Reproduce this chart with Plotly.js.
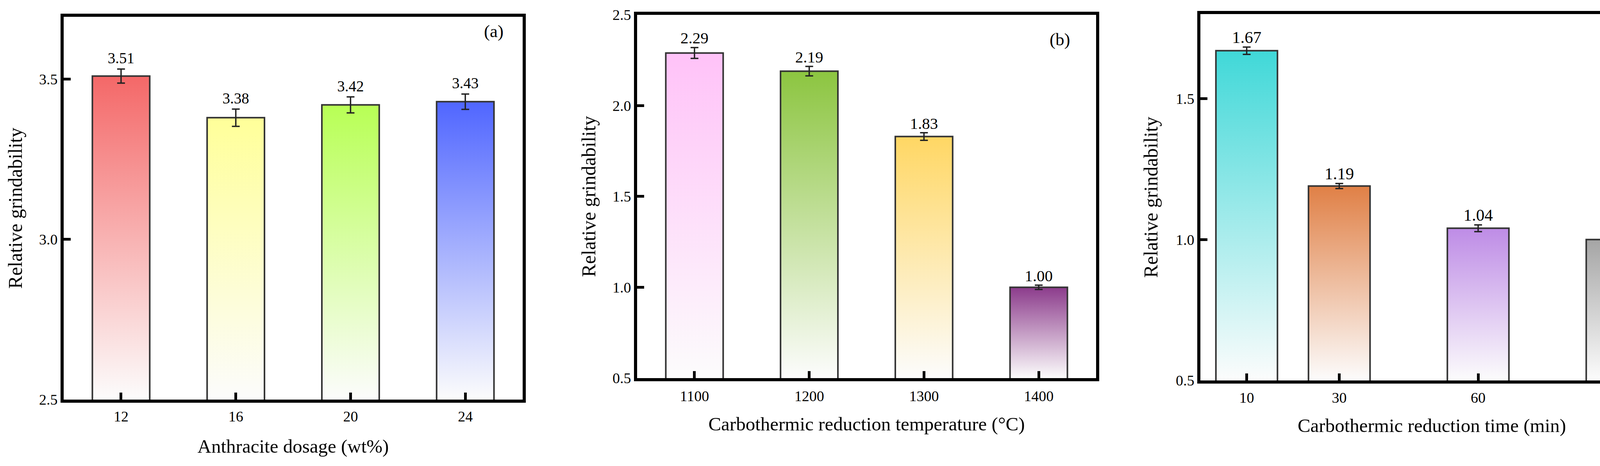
<!DOCTYPE html>
<html>
<head>
<meta charset="utf-8">
<script src="https://cdn.plot.ly/plotly-3.0.1.min.js"></script>
<style>
  html, body { margin: 0; padding: 0; background: #ffffff; }
  #paper { width: 4299px; height: 1193px; }
</style>
</head>
<body>
<div id="paper"></div>
<script>
"use strict"

// (a) anthracite dosage
var dosage = [12, 16, 20, 24];
var dosage_values = [3.51, 3.38, 3.42, 3.43];
var dosage_errors = [0.022, 0.027, 0.025, 0.024];
var dosage_colors = ['#f46868', '#ffff99', '#b8ff55', '#5066ff'];

// (b) reduction temperature
var temperature = [1100, 1200, 1300, 1400];
var temperature_values = [2.29, 2.19, 1.83, 1.00];
var temperature_errors = [0.030, 0.026, 0.021, 0.012];
var temperature_colors = ['#ffc2f8', '#8cc540', '#ffd764', '#8c3c8c'];

// (c) reduction time
var time = [10, 30, 60, 90];
var time_values = [1.67, 1.19, 1.04, 1.00];
var time_errors = [0.013, 0.009, 0.012, 0.010];
var time_colors = ['#40d8d8', '#e08046', '#be8ce6', '#a5a5a5'];

var y_ticks_a = [2.5, 3.0, 3.5];
var y_ticks_b = [0.5, 1.0, 1.5, 2.0, 2.5];
var y_ticks_c = [0.5, 1.0, 1.5];

var panel_labels = ['(a)', '(b)', '(c)'];
var x_titles = ['Anthracite dosage (wt%)', 'Carbothermic reduction temperature (°C)', 'Carbothermic reduction time (min)'];
var y_title = 'Relative grindability';

var FONT = 'Liberation Serif, Times New Roman, serif';

function bar_trace(x, y, err, colors, width, axis) {
    return {
        type: 'bar',
        x: x,
        y: y,
        width: width,
        xaxis: 'x' + axis,
        yaxis: 'y' + axis,
        marker: {color: colors, line: {color: '#333333', width: 4}},
        error_y: {type: 'data', array: err, visible: true, color: '#222222', thickness: 3.5, width: 10},
        hoverinfo: 'none'
    };
}

// value labels sit on top of the error bar caps,
// an invisible marker (lift) pushes the text a little higher
function label_trace(x, y, err, size, axis, lift) {
    var trace = {
        type: 'scatter',
        mode: 'text',
        x: x,
        y: y.map(function(v, i) { return v + err[i]; }),
        text: y.map(function(v) { return v.toFixed(2); }),
        textposition: 'top center',
        textfont: {family: FONT, size: size, color: '#000000'},
        xaxis: 'x' + axis,
        yaxis: 'y' + axis,
        hoverinfo: 'none'
    };
    if(lift > 0) {
        trace.mode = 'markers+text';
        trace.marker = {size: lift, opacity: 0};
    }
    return trace;
}

function x_axis(domain, range, ticks, anchor, label_standoff, title, title_standoff) {
    return {
        domain: domain, range: range, anchor: anchor,
        tickmode: 'array', tickvals: ticks, ticktext: ticks.map(String),
        ticks: 'inside', ticklen: 18, tickwidth: 7, tickcolor: '#000000',
        tickfont: {family: FONT, size: 38, color: '#000000'},
        ticklabelstandoff: label_standoff,
        showline: true, mirror: true, linewidth: 8, linecolor: '#000000',
        showgrid: false, zeroline: false, fixedrange: true,
        title: {text: title, font: {family: FONT, size: 49, color: '#000000'}, standoff: title_standoff}
    };
}

function y_axis(domain, range, ticks, anchor, title_standoff) {
    return {
        domain: domain, range: range, anchor: anchor,
        tickmode: 'array', tickvals: ticks, tickformat: '.1f',
        ticks: 'inside', ticklen: 18, tickwidth: 7, tickcolor: '#000000',
        tickfont: {family: FONT, size: 38, color: '#000000'},
        ticklabelstandoff: 0,
        showline: true, mirror: true, linewidth: 8, linecolor: '#000000',
        showgrid: false, zeroline: false, fixedrange: true,
        title: {text: y_title, font: {family: FONT, size: 50, color: '#000000'}, standoff: title_standoff}
    };
}

function panel_label(text, x, y) {
    return {
        xref: 'paper', yref: 'paper', x: x, y: y,
        xanchor: 'center', yanchor: 'middle', showarrow: false,
        text: text, font: {family: FONT, size: 45, color: '#000000'}
    };
}

// plotly has no gradient fill for bars, so each bar's flat fill is swapped
// for an svg gradient running from its top down to the bottom of the plot
function apply_bar_gradients(gd) {
    var ns = 'http://www.w3.org/2000/svg';
    var svg = gd.querySelector('.main-svg');
    var defs = document.createElementNS(ns, 'defs');
    svg.insertBefore(defs, svg.firstChild);

    var traces = gd.querySelectorAll('.barlayer .trace');
    traces.forEach(function(trace, t) {
        var full = trace.__data__[0].trace;
        var colors = full.marker.color;
        var ya = gd._fullLayout[full.yaxis.replace('y', 'yaxis')];
        var paths = trace.querySelectorAll('.point path');
        paths.forEach(function(path, i) {
            var box = path.getBBox();
            var id = 'bargrad_' + t + '_' + i;
            var grad = document.createElementNS(ns, 'linearGradient');
            grad.setAttribute('id', id);
            grad.setAttribute('gradientUnits', 'userSpaceOnUse');
            grad.setAttribute('x1', '0');
            grad.setAttribute('x2', '0');
            grad.setAttribute('y1', String(box.y));
            grad.setAttribute('y2', String(Math.min(box.y + box.height, ya._length)));
            var top = document.createElementNS(ns, 'stop');
            top.setAttribute('offset', '0');
            top.setAttribute('stop-color', colors[i]);
            var bottom = document.createElementNS(ns, 'stop');
            bottom.setAttribute('offset', '1');
            bottom.setAttribute('stop-color', '#fcfcfc');
            grad.appendChild(top);
            grad.appendChild(bottom);
            defs.appendChild(grad);
            path.style.fill = 'url(#' + id + ')';
            path.style.fillOpacity = 1;
        });
    });
}

var data = [
    bar_trace(dosage, dosage_values, dosage_errors, dosage_colors, 2, ''),
    label_trace(dosage, dosage_values, dosage_errors, 39, '', 6),
    bar_trace(temperature, temperature_values, temperature_errors, temperature_colors, 50, '2'),
    label_trace(temperature, temperature_values, temperature_errors, 41, '2', 0),
    bar_trace(time, time_values, time_errors, time_colors, 13.3, '3'),
    label_trace(time, time_values, time_errors, 43, '3', 0)
];

var layout = {
    width: 4299,
    height: 1193,
    margin: {l: 0, r: 0, t: 0, b: 0},
    paper_bgcolor: '#ffffff',
    plot_bgcolor: '#ffffff',
    showlegend: false,
    font: {family: FONT, color: '#000000'},

    xaxis: x_axis([0.03792, 0.31124], [10, 26], dosage, 'y', 2, x_titles[0], 42),
    yaxis: y_axis([0.1425, 0.96396], [2.5, 3.695], y_ticks_a, 'x', 30),
    xaxis2: x_axis([0.37939, 0.65271], [1050, 1450], temperature, 'y2', 5, x_titles[1], 37),
    yaxis2: y_axis([0.18860, 0.96815], [0.5, 2.5], y_ticks_b, 'x2', 30),
    xaxis3: x_axis([0.71482, 0.99047], [0, 100], time, 'y3', 3, x_titles[2], 37),
    yaxis3: y_axis([0.18357, 0.96982], [0.5, 1.8], y_ticks_c, 'x3', 33),

    annotations: [
        panel_label(panel_labels[0], 0.2940, 0.9328),
        panel_label(panel_labels[1], 0.6311, 0.9154),
        panel_label(panel_labels[2], 0.9730, 0.9236)
    ]
};

Plotly.newPlot('paper', data, layout, {staticPlot: true, displayModeBar: false}).then(apply_bar_gradients);
</script>
</body>
</html>
